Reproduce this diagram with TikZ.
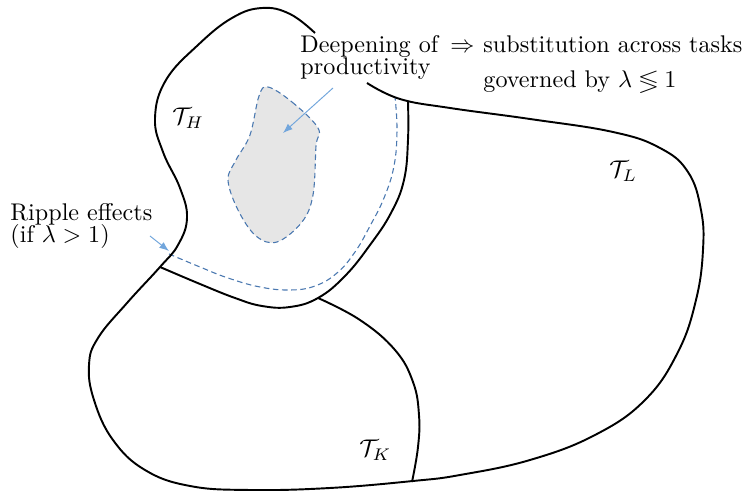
\documentclass[tikz,border=0pt]{standalone}
\usepackage{amssymb}
\usetikzlibrary{arrows.meta}
\definecolor{dashblue}{HTML}{4A78B0}
\definecolor{arrowblue}{HTML}{72A6DC}
\definecolor{blobgray}{HTML}{E6E6E6}
\tikzset{
  border/.style={line width=0.8pt, black, line join=round},
  dashline/.style={draw=dashblue, line width=0.45pt, dash pattern=on 2.3pt off 1.5pt},
  pointer/.style={arrowblue, line width=0.4pt, -{Latex[length=4pt,width=3pt]}},
  txt/.style={anchor=base west, inner sep=0pt, font=\fontsize{10}{12}\selectfont},
}
\begin{document}
\begin{tikzpicture}[x=0.4145pt, y=-0.4145pt]
\useasboundingbox (0,0) rectangle (746,491);

% gray blob
\path[dashline, fill=blobgray] plot[smooth cycle, tension=0.6] coordinates {
  (268,87) (292,102) (318,128) (316,146) (313,195) (302,222) (277,242)
  (256,236) (238,210) (228,180) (236,160) (250,135) (259,96)};

% dashed ripple boundary
\draw[dashline] plot[smooth, tension=0.7] coordinates {
  (169,254) (200,267) (228,278) (260,287) (290,290) (315,286) (337,273)
  (355,252) (370,226) (384,198) (394,166) (397,130) (395,97)};

% outer boundary
\draw[border] plot[smooth, tension=0.7] coordinates {
  (367,83) (400,99) (450,108) (530,119) (613,132) (660,148) (688,172)
  (701,210) (703,250) (696,300) (678,352) (645,400) (595,435) (530,460)
  (460,475) (413,481) (330,488) (250,490) (190,486) (145,470) (113,440)
  (94,400) (89,365) (98,338) (127,303) (160,267) (178,245) (187,218)
  (180,188) (163,152) (155,118) (166,80) (198,45) (232,18) (262,8)
  (290,14) (315,33)};

% inner boundary of T_H
\draw[border] plot[smooth, tension=0.7] coordinates {
  (160,267) (200,284) (235,298) (262,306) (290,307) (318,298)
  (345,276) (370,245) (391,213) (404,180) (408,140) (408,102)};

% divider T_K / T_L
\draw[border] plot[smooth, tension=0.7] coordinates {
  (318,298) (360,320) (395,350) (413,382) (419,415) (418,447) (412,482)};

% labels
\node[txt] (TH) at (172,125) {$\mathcal{T}_H$};
\node[txt] (TL) at (609,178) {$\mathcal{T}_L$};
\node[txt] (TK) at (359,457) {$\mathcal{T}_K$};

\node[txt] (deep1) at (300,53) {Deepening of};
\node[txt] (deep2) at (300,75) {productivity};
\node[txt] (impl) at (450,53) {$\Rightarrow$};
\node[txt] (subst) at (483,53) {substitution across tasks};
\node[txt] (gov) at (483,88) {governed by $\lambda \lessgtr 1$};

\node[txt] (rip1) at (10,221) {Ripple effects};
\node[txt] (rip2) at (10,243) {(if $\lambda > 1$)};

% pointers
\coordinate (ptail) at (333,88);
\coordinate (phead) at (283,133);
\coordinate (rtail) at (150,236);
\coordinate (rhead) at (169,251);
\draw[pointer] (ptail) -- (phead);
\draw[pointer] (rtail) -- (rhead);
\end{tikzpicture}
\end{document}
